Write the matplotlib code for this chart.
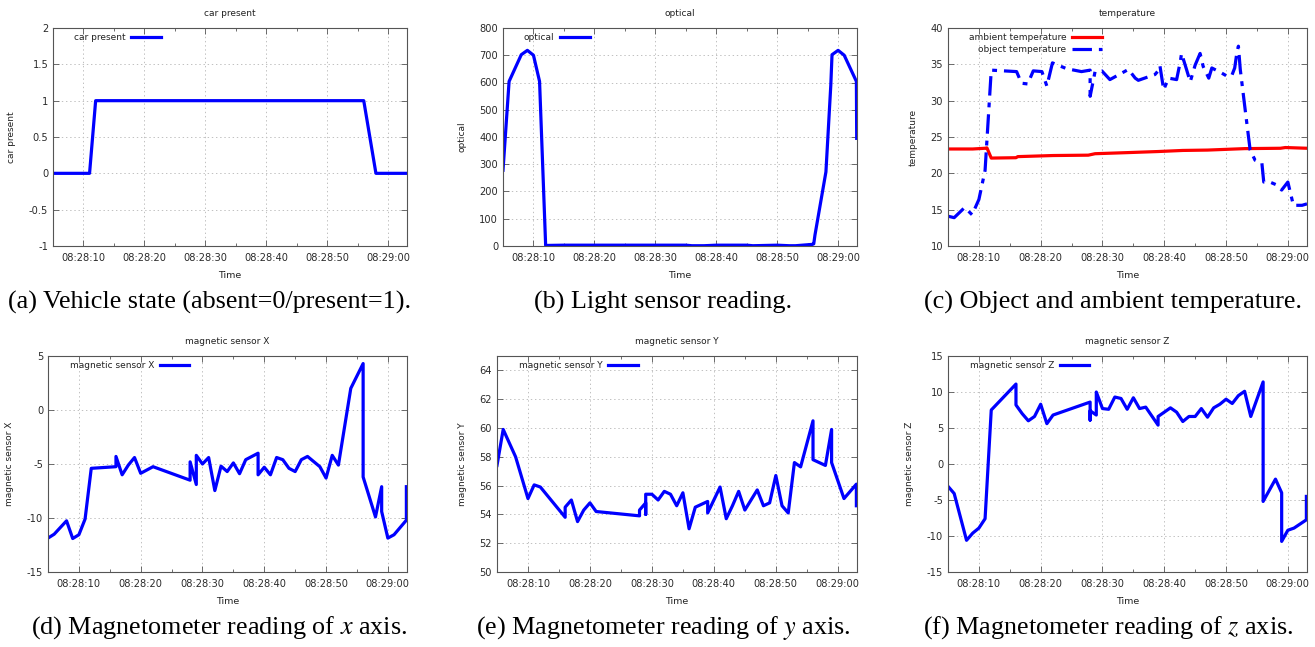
import datetime as dt
import matplotlib
matplotlib.use('Agg')
import matplotlib.pyplot as plt
import matplotlib.dates as mdates
from matplotlib.ticker import MultipleLocator, FuncFormatter

# ---------------- data (time = seconds after 08:28:00) ----------------
car_t = [5, 11, 12, 56, 58, 63.1]
car_v = [0, 0, 1, 1, 0, 0]

optical_t = [5, 6, 8, 9, 10, 11, 12, 15, 20, 25, 30, 35, 36, 38, 40, 45, 46, 50,
             52, 53, 55.8, 56, 56.2, 58, 58.8, 59, 60, 61, 63, 63.05]
optical_v = [278, 604, 702, 718, 700, 604, 2, 3, 3, 3, 3, 3, 1, 1, 3, 3, 1, 3,
             1, 1, 6, 8, 40, 272, 590, 702, 718, 700, 604, 395]

ambient_t = [5, 9, 11, 11.3, 12, 16, 16.3, 22, 27.7, 28.8, 34, 39, 43, 47, 53,
             58.8, 59.6, 63.1]
ambient_v = [23.35, 23.35, 23.45, 23.5, 22.1, 22.15, 22.3, 22.45, 22.5, 22.7,
             22.85, 23.0, 23.15, 23.2, 23.4, 23.45, 23.55, 23.45]

object_t = [5, 6, 7.7, 8.9, 10, 11, 12, 16.1, 16.9, 17.9, 18.8, 20.2, 21, 21.9,
            24.2, 26.6, 28, 28, 28.8, 29.9, 31.2, 34.2, 35.3, 35.8, 38.5, 39.1,
            39.3, 39.9, 40.7, 42, 42.6, 42.8, 43.6, 44.2, 45, 45.8, 46.3, 47.2,
            47.7, 49.3, 50.1, 50.9, 51.4, 51.7, 52, 52.3, 53.1, 53.9, 54.7, 55.8,
            56.1, 57.1, 58.2, 59, 60, 60.9, 62.3, 63.1]
object_v = [14.1, 13.9, 15.3, 14.3, 16.4, 20.4, 34.2, 34.0, 32.4, 32.3, 34.1,
            34.0, 32.0, 35.2, 34.4, 34.0, 34.2, 30.6, 34.0, 34.1, 32.9, 34.3,
            33.1, 32.8, 33.6, 34.2, 34.8, 31.5, 33.1, 32.9, 35.4, 36.5, 34.3,
            32.6, 34.9, 36.5, 34.7, 33.1, 34.5, 33.8, 33.4, 33.4, 34.5, 36.3,
            37.5, 34.3, 28.7, 23.2, 21.8, 21.4, 18.8, 18.8, 18.4, 17.7, 18.8,
            15.6, 15.6, 15.8]

magx_t = [5, 6, 8, 9, 10, 11, 12, 16, 16, 17, 18, 19, 20, 22, 28, 28, 29, 29,
          30, 31, 32, 33, 34, 35, 36, 37, 39, 39, 40, 41, 42, 43, 44, 45, 46,
          47, 49, 50, 51, 52, 54, 56, 56, 58, 59, 59, 60, 61, 63, 63]
magx_v = [-11.86, -11.5, -10.26, -11.9, -11.55, -10.1, -5.4, -5.25, -4.3, -6.0,
          -5.1, -4.4, -5.86, -5.25, -6.5, -4.8, -6.9, -4.2, -5.0, -4.4, -7.46,
          -5.2, -5.7, -4.9, -5.9, -4.6, -4.0, -6.0, -5.3, -6.0, -4.4, -4.6,
          -5.4, -5.7, -4.6, -4.3, -5.25, -6.3, -4.2, -5.1, 2.0, 4.3, -6.2,
          -9.9, -7.1, -9.4, -11.86, -11.55, -10.2, -7.1]

magy_t = [5, 6, 8, 10, 11, 12, 16, 16, 17, 18, 19, 20, 21, 28, 28, 29, 29, 29,
          30, 31, 32, 33, 34, 35, 36, 37, 39, 39, 41, 42, 43, 44, 45, 47, 48,
          49, 50, 51, 52, 53, 54, 56, 56, 58, 59, 59, 61, 63, 63]
magy_v = [57.4, 59.9, 58.0, 55.1, 56.05, 55.9, 53.8, 54.5, 55.0, 53.5, 54.3,
          54.8, 54.2, 53.9, 54.3, 54.8, 54.0, 55.4, 55.4, 55.0, 55.6, 55.4,
          54.6, 55.5, 53.0, 54.5, 54.9, 54.1, 55.9, 53.7, 54.6, 55.6, 54.3,
          55.7, 54.6, 54.8, 56.7, 54.6, 54.1, 57.6, 57.3, 60.5, 57.8, 57.4,
          59.9, 57.6, 55.1, 56.1, 54.6]

magz_t = [5, 6, 8, 9, 10, 11, 12, 16, 16, 17, 18, 19, 20, 21, 22, 28, 28, 28,
          29, 29, 30, 31, 32, 33, 34, 35, 36, 37, 39, 39, 41, 42, 43, 44, 45,
          46, 47, 48, 49, 50, 51, 52, 53, 54, 56, 56, 58, 59, 59, 60, 61, 63, 63]
magz_v = [-3.1, -4.1, -10.6, -9.6, -8.9, -7.6, 7.5, 11.1, 8.2, 7.0, 6.0, 6.6,
          8.3, 5.6, 6.8, 8.6, 6.1, 7.4, 6.8, 10.0, 7.7, 7.6, 9.3, 9.1, 7.6, 9.2,
          7.7, 7.9, 5.4, 6.6, 7.8, 7.2, 5.9, 6.6, 6.6, 7.7, 6.5, 7.8, 8.3, 9.0,
          8.4, 9.5, 10.1, 6.6, 11.4, -5.2, -2.1, -4.0, -10.75, -9.2, -8.9,
          -7.75, -4.5]

captions = ["(a) Vehicle state (absent=0/present=1).",
            "(b) Light sensor reading.",
            "(c) Object and ambient temperature.",
            "(d) Magnetometer reading of $x$ axis.",
            "(e) Magnetometer reading of $y$ axis.",
            "(f) Magnetometer reading of $z$ axis."]

X_START, X_END = 5.0, 63.1
BASE = dt.datetime(2017, 1, 1, 8, 28, 0)


def to_time(secs):
    return [BASE + dt.timedelta(seconds=float(s)) for s in secs]


plt.rcParams['axes.unicode_minus'] = False
plt.rcParams['font.family'] = ['DejaVu Sans']
plt.rcParams['mathtext.fontset'] = 'stix'
plt.rcParams['lines.scale_dashes'] = False

W, H = 1315, 647
fig = plt.figure(figsize=(W / 100, H / 100), dpi=100)


def add_ax(l, t, r, b):
    return fig.add_axes([l / W, 1 - b / H, (r - l) / W, (b - t) / H])


BLUE = '#0000ff'
RED = '#ff0000'
TXT = '#222222'
LW = 2.3


def style(ax, title, ylabel, ylim, ystep):
    ax.set_xlim(to_time([X_START, X_END]))
    ax.set_ylim(*ylim)
    ax.yaxis.set_major_locator(MultipleLocator(ystep))
    ax.yaxis.set_major_formatter(FuncFormatter(lambda v, p: f'{v:g}'))
    ax.xaxis.set_major_locator(mdates.SecondLocator(bysecond=range(0, 60, 10)))
    ax.xaxis.set_minor_locator(mdates.SecondLocator(bysecond=range(5, 60, 10)))
    ax.xaxis.set_major_formatter(mdates.DateFormatter('%H:%M:%S'))
    ax.tick_params(which='both', direction='in', top=True, right=True,
                   color='#555555', labelcolor='#2a2a2a', labelsize=7.1)
    ax.tick_params(which='major', length=4, width=0.6)
    ax.tick_params(which='minor', length=2, width=0.6)
    ax.tick_params(axis='x', pad=5)
    ax.tick_params(axis='y', pad=3.5)
    for s in ax.spines.values():
        s.set_color('#555555')
        s.set_linewidth(0.8)
    ax.grid(True, which='major', color='#c0c0c0', linestyle=(0, (1, 2)),
            linewidth=0.7)
    ax.set_axisbelow(True)
    ax.set_title(title, fontsize=6.5, color=TXT, pad=9)
    ax.set_xlabel('Time', fontsize=6.8, color=TXT, labelpad=6)
    ax.set_ylabel(ylabel, fontsize=6.5, color=TXT, labelpad=9)


def legend(ax, x0):
    leg = ax.legend(loc='upper left', bbox_to_anchor=(x0, 0.975), frameon=False,
                    markerfirst=False, fontsize=6.5, handlelength=3.3,
                    handletextpad=0.6, borderpad=0, borderaxespad=0,
                    labelspacing=0.25)
    for t in leg.get_texts():
        t.set_color(TXT)


# (a)
ax = add_ax(53, 28, 407, 246)
ax.plot(to_time(car_t), car_v, color=BLUE, lw=LW, label='car present')
style(ax, 'car present', 'car present', (-1, 2), 0.5)
legend(ax, 0.059)

# (b)
ax = add_ax(503, 28, 857, 246)
ax.plot(to_time(optical_t), optical_v, color=BLUE, lw=LW, label='optical')
style(ax, 'optical', 'optical', (0, 800), 100)
legend(ax, 0.059)

# (c)
ax = add_ax(948, 28, 1307, 246)
ax.plot(to_time(ambient_t), ambient_v, color=RED, lw=LW,
        label='ambient temperature')
ax.plot(to_time(object_t), object_v, color=BLUE, lw=LW,
        dashes=(14, 5, 3.5, 5), label='object temperature')
style(ax, 'temperature', 'temperature', (10, 40), 5)
legend(ax, 0.058)

# (d)
ax = add_ax(48, 356, 407, 572)
ax.plot(to_time(magx_t), magx_v, color=BLUE, lw=LW, label='magnetic sensor X')
style(ax, 'magnetic sensor X', 'magnetic sensor X', (-15, 5), 5)
legend(ax, 0.061)

# (e)
ax = add_ax(497, 356, 857, 572)
ax.plot(to_time(magy_t), magy_v, color=BLUE, lw=LW, label='magnetic sensor Y')
style(ax, 'magnetic sensor Y', 'magnetic sensor Y', (50, 65), 2)
legend(ax, 0.061)

# (f)
ax = add_ax(948, 356, 1307, 572)
ax.plot(to_time(magz_t), magz_v, color=BLUE, lw=LW, label='magnetic sensor Z')
style(ax, 'magnetic sensor Z', 'magnetic sensor Z', (-15, 15), 5)
legend(ax, 0.061)

cap_pos = [(210, 302), (663, 302), (1113, 302),
           (219, 628), (663, 628), (1108, 628)]
for (cx, cy), text in zip(cap_pos, captions):
    fig.text(cx / W, 1 - cy / H, text, ha='center', va='center', fontsize=18.8,
             family='Liberation Serif', color='black')

fig.savefig('out.png', dpi=100)
